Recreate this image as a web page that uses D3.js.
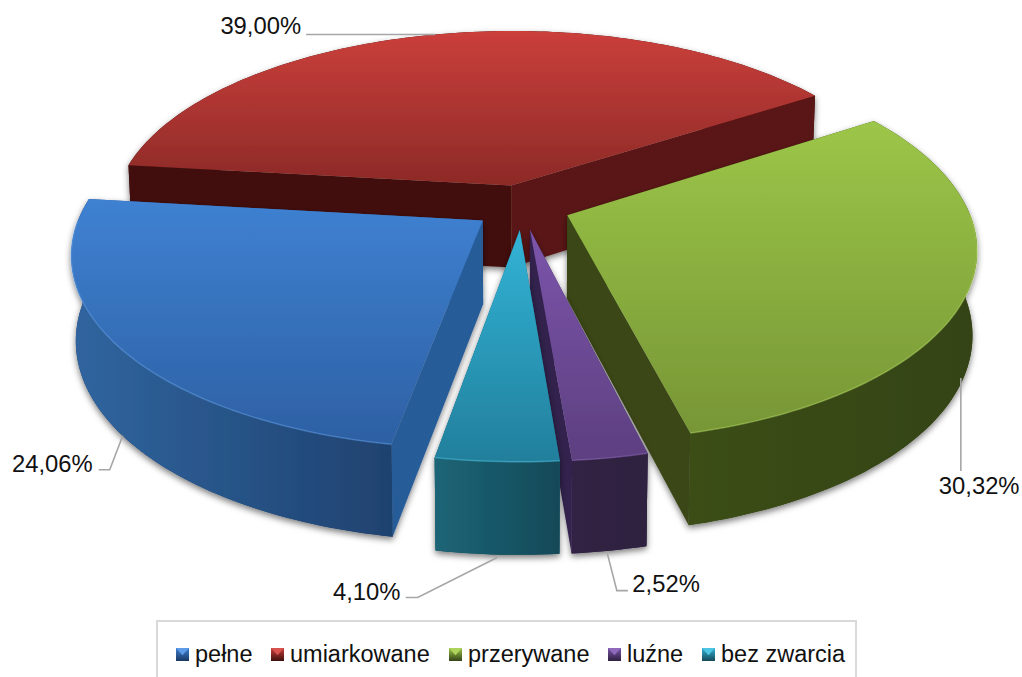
<!DOCTYPE html>
<html>
<head>
<meta charset="utf-8">
<script src="https://cdn.jsdelivr.net/npm/d3@7"></script>
<style>
  html, body { margin: 0; padding: 0; background: #fff; }
  svg { display: block; }
  text { font-family: "Liberation Sans", Arial, sans-serif; fill: #111; }
</style>
</head>
<body>
<svg id="vis_svg" width="1022" height="677"></svg>
<script>
const categories = ['pełne', 'umiarkowane', 'przerywane', 'luźne', 'bez zwarcia'];
const values = [24.06, 39.0, 30.32, 2.52, 4.1];

// colours per slice: top face gradient, wall gradient, cut faces, bevel
const topColors = [['#3f81d2', '#2d60a3'], ['#cb3f3b', '#8c2a27'], ['#9cc648', '#779636'], ['#7c55ab', '#5d3f80'], ['#32b3d6', '#227f9c']];
const wallColors = [['#30659f', '#1a3862'], ['#5a1614', '#3d0f0d'], ['#3f5319', '#344317'], ['#332346', '#2e2140'], ['#1b6576', '#164958']];
const cutStartColors = ['#285c98', '#42100e', '#3a4718', '#33224e', '#1a5d6e'];
const cutEndColors = ['#285c98', '#5a1614', '#3a4718', '#33224e', '#1a5d6e'];
const bevelColors = ['#5d9be6', '#d9534e', '#aed35c', '#8f6abc', '#4cc4e2'];
const drawOrder = [1, 2, 0, 3, 4];

// label offsets from the leader anchor on the rim
const labelLayout = [
  { start: [0, 0], elbow: [-13, 34], end: [-24, 34], text: [-30, 36], anchor: 'end' },
  { start: [0, 0], elbow: [-129, 0], end: [-129, 0], text: [-134, 0], anchor: 'end' },
  { start: [-3.5, 2], elbow: [-3.5, 95], end: [-3.5, 95], text: [-25.5, 118], anchor: 'start' },
  { start: [-2, 3], elbow: [7.5, 40], end: [18.5, 40], text: [23, 41], anchor: 'start' },
  { start: [0, 3], elbow: [-79.5, 43], end: [-91.5, 43], text: [-96.7, 45.5], anchor: 'end' },
];

const width = 1022;
const height = 677;
const svg = d3.select('#vis_svg').attr('viewBox', `0 0 ${width} ${height}`);
const defs = svg.append('defs');

/**
 * Perspective of the tilted disc. u and v are in units of the slice radius,
 * v grows towards the viewer.
 */
const view = { cx: 522, cy: 207, scaleX: 400, scaleY: 186, persp: 0.162, explode: 0.121 };

const projectTop = (u, v) => {
  const k = 1 / (1 - view.persp * v);
  return [view.cx + view.scaleX * u * k, view.cy + view.scaleY * v * k];
};
const projectBottom = (u, v) => {
  const [x, y] = projectTop(u, v);
  return [view.cx + (x - view.cx) * 0.99, y + 83 + 9 * v];
};

const pie = d3
  .pie()
  .sort(null)
  .startAngle((190 * Math.PI) / 180)
  .endAngle((550 * Math.PI) / 180);
const slices = pie(values);

const line = d3.line();
const closed = (pts) => line(pts) + 'Z';

const rimPoint = (d, angle) => {
  const mid = (d.startAngle + d.endAngle) / 2;
  return [view.explode * Math.sin(mid) + Math.sin(angle), -view.explode * Math.cos(mid) - Math.cos(angle)];
};
const apex = (d) => {
  const mid = (d.startAngle + d.endAngle) / 2;
  return [view.explode * Math.sin(mid), -view.explode * Math.cos(mid)];
};
const arcAngles = (a0, a1) => {
  const n = Math.max(2, Math.ceil((a1 - a0) / 0.02));
  return d3.range(n + 1).map((i) => a0 + ((a1 - a0) * i) / n);
};

// pieces of [start, end] that face the viewer (90..270 deg, also shifted by one turn)
const TAU = Math.PI * 2;
const frontRange = (d) => {
  const lo = Math.max(d.startAngle, Math.PI / 2);
  const hi = Math.min(d.endAngle, (3 * Math.PI) / 2);
  const lo2 = Math.max(d.startAngle, Math.PI / 2 + TAU);
  const hi2 = Math.min(d.endAngle, (3 * Math.PI) / 2 + TAU);
  if (hi > lo) return [lo, hi];
  if (hi2 > lo2) return [lo2, hi2];
  return null;
};

const gradient = (id, stops, x1, y1, x2, y2) => {
  const g = defs
    .append('linearGradient')
    .attr('id', id)
    .attr('gradientUnits', 'userSpaceOnUse')
    .attr('x1', x1)
    .attr('y1', y1)
    .attr('x2', x2)
    .attr('y2', y2);
  g.append('stop').attr('offset', 0).attr('stop-color', stops[0]);
  g.append('stop').attr('offset', 1).attr('stop-color', stops[1]);
};

const shadow = defs
  .append('filter')
  .attr('id', 'slice_shadow')
  .attr('x', '-10%')
  .attr('y', '-10%')
  .attr('width', '120%')
  .attr('height', '125%');
shadow
  .append('feDropShadow')
  .attr('dx', 0)
  .attr('dy', 3)
  .attr('stdDeviation', 3)
  .attr('flood-color', '#000')
  .attr('flood-opacity', 0.5);

const wallPath = (d, a0, a1) => {
  const angles = arcAngles(a0, a1);
  const top = angles.map((a) => projectTop(...rimPoint(d, a)));
  const bottom = angles.map((a) => projectBottom(...rimPoint(d, a))).reverse();
  return closed(top.concat(bottom));
};
const cutPath = (d, a) => {
  const c = apex(d);
  const r = rimPoint(d, a);
  return closed([projectTop(...c), projectTop(...r), projectBottom(...r), projectBottom(...c)]);
};

const g_pie = svg.append('g').attr('id', 'g_vis');

drawOrder.forEach((i) => {
  const d = slices[i];
  const g = g_pie.append('g').attr('filter', 'url(#slice_shadow)');
  const topPts = [projectTop(...apex(d))].concat(
    arcAngles(d.startAngle, d.endAngle).map((a) => projectTop(...rimPoint(d, a)))
  );
  const xs = topPts.map((p) => p[0]);
  const ys = topPts.map((p) => p[1]);

  gradient('top_' + i, topColors[i], 0, d3.min(ys), 0, d3.max(ys));
  gradient('wall_' + i, wallColors[i], d3.min(xs), 0, d3.max(xs), 0);

  const front = frontRange(d);
  g.append('path').attr('d', wallPath(d, d.startAngle, d.endAngle)).attr('fill', wallColors[i][1]);
  g.append('path').attr('d', cutPath(d, d.startAngle)).attr('fill', cutStartColors[i]);
  g.append('path').attr('d', cutPath(d, d.endAngle)).attr('fill', cutEndColors[i]);
  if (front) {
    g.append('path').attr('d', wallPath(d, front[0], front[1])).attr('fill', `url(#wall_${i})`);
  }
  g.append('path').attr('d', closed(topPts)).attr('fill', `url(#top_${i})`);
  if (front) {
    g.append('path')
      .attr('d', line(arcAngles(front[0], front[1]).map((a) => projectTop(...rimPoint(d, a)))))
      .attr('fill', 'none')
      .attr('stroke', bevelColors[i])
      .attr('stroke-width', 1.5)
      .attr('stroke-opacity', 0.5);
  }
});

/**
 * Leader lines and value labels, anchored at the middle of each slice's rim.
 */
const fmt = (v) => d3.format('.2f')(v).replace('.', ',') + '%';
const g_labels = svg.append('g');

slices.forEach((d, i) => {
  const mid = (d.startAngle + d.endAngle) / 2;
  const r = rimPoint(d, mid);
  const a = Math.cos(mid) > 0 ? projectTop(...r) : projectBottom(...r);
  const l = labelLayout[i];
  const pts = [l.start, l.elbow, l.end].map((o) => [a[0] + o[0], a[1] + o[1]]);
  g_labels
    .append('path')
    .attr('d', line(pts))
    .attr('fill', 'none')
    .attr('stroke', '#a6a6a6')
    .attr('stroke-width', 1.6);
  g_labels
    .append('text')
    .attr('x', a[0] + l.text[0])
    .attr('y', a[1] + l.text[1])
    .attr('text-anchor', l.anchor)
    .style('font-size', '23.8px')
    .text(fmt(values[i]));
});

/**
 * Legend
 */
const g_legend = svg.append('g');
g_legend
  .append('rect')
  .attr('x', 157)
  .attr('y', 621)
  .attr('width', 699)
  .attr('height', 70)
  .attr('fill', '#fff')
  .attr('stroke', '#d9d9d9')
  .attr('stroke-width', 2);

const legendOffsets = [176, 271, 449, 608, 702];
const markerSize = 13;

categories.forEach((c, i) => {
  const x = legendOffsets[i];
  const y = 648;
  gradient('leg_' + i, [topColors[i][0], wallColors[i][1]], 0, y, 0, y + markerSize);
  g_legend
    .append('rect')
    .attr('x', x)
    .attr('y', y)
    .attr('width', markerSize)
    .attr('height', markerSize)
    .attr('fill', `url(#leg_${i})`);
  g_legend
    .append('path')
    .attr('d', closed([[x, y], [x + markerSize, y], [x + markerSize / 2, y + markerSize * 0.55]]))
    .attr('fill', bevelColors[i]);
  g_legend
    .append('text')
    .attr('x', x + markerSize + 6)
    .attr('y', 662)
    .style('font-size', '23.5px')
    .text(c);
});
</script>
</body>
</html>
